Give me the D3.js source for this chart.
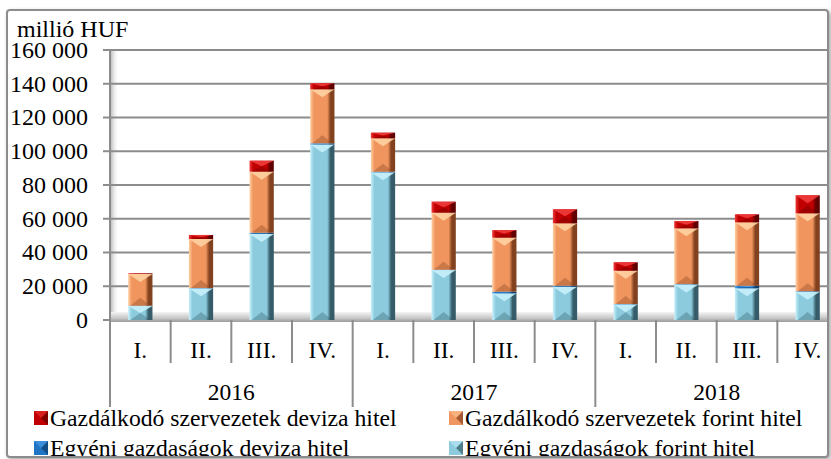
<!DOCTYPE html>
<html>
<head>
<meta charset="utf-8">
<script src="https://cdn.jsdelivr.net/npm/d3@7"></script>
<style>
  body { margin: 0; background: #fff; }
  svg { display: block; font-family: "Liberation Serif", "Times New Roman", serif; }
</style>
</head>
<body>
<svg width="831" height="459"></svg>
<script>
// quarters and years
const quarters = ["I.", "II.", "III.", "IV.", "I.", "II.", "III.", "IV.", "I.", "II.", "III.", "IV."];
const years = ["2016", "2017", "2018"];

// millió HUF
const egyeniForint = [8300, 18800, 51000, 104000, 87500, 29600, 15800, 19700, 9300, 21100, 18800, 16800];
const egyeniDeviza = [200, 200, 700, 700, 400, 200, 1000, 600, 200, 200, 1500, 300];
const gazdForint = [18800, 29000, 36200, 32000, 19800, 33800, 32000, 37000, 19700, 33000, 37600, 46100];
const gazdDeviza = [400, 2400, 6500, 3600, 3300, 6500, 4500, 8300, 5000, 4400, 4700, 10700];

const yTicks = [0, 20000, 40000, 60000, 80000, 100000, 120000, 140000, 160000];

const series = [
    { key: "ef", name: "Egyéni gazdaságok forint hitel", values: egyeniForint, light: "#c8f1fb", main: "#8ccbde", dark: "#355c68" },
    { key: "ed", name: "Egyéni gazdaságok deviza hitel", values: egyeniDeviza, light: "#5aa8ec", main: "#1f74c4", dark: "#0e3d6b" },
    { key: "gf", name: "Gazdálkodó szervezetek forint hitel", values: gazdForint, light: "#ffd0a2", main: "#f0955e", dark: "#83421f" },
    { key: "gd", name: "Gazdálkodó szervezetek deviza hitel", values: gazdDeviza, light: "#f03c3c", main: "#c00000", dark: "#600000" }
];

const svg = d3.select("svg");
const defs = svg.append("defs");

const plotLeft = 110, plotRight = 838, plotTop = 50, plotBottom = 320;

// outer frame
const shadow = defs.append("filter").attr("id", "shadow").attr("x", "-5%").attr("y", "-5%").attr("width", "110%").attr("height", "110%");
shadow.append("feDropShadow").attr("dx", 2).attr("dy", 2).attr("stdDeviation", 2).attr("flood-color", "#000").attr("flood-opacity", 0.35);
svg.append("rect")
    .attr("x", 7).attr("y", 10).attr("width", 821).attr("height", 447)
    .attr("rx", 3)
    .attr("fill", "#fff")
    .attr("stroke", "#8c8c8c")
    .attr("stroke-width", 2)
    .attr("filter", "url(#shadow)");

const clip = defs.append("clipPath").attr("id", "frameclip");
clip.append("rect").attr("x", 8).attr("y", 11).attr("width", 819).attr("height", 445);

const g = svg.append("g").attr("clip-path", "url(#frameclip)");

const keys = quarters.map((q, i) => i);
const xs = d3.scaleBand().domain(keys).range([plotLeft, plotRight]);
const barW = xs.bandwidth() * 0.4;
const y = d3.scaleLinear().domain([0, 160000]).range([plotBottom, plotTop]);

const fmt = d3.formatLocale({ decimal: ",", thousands: "\u00a0", grouping: [3], currency: ["", ""] }).format(",");

// wall shading on the left
const wallGrad = defs.append("linearGradient").attr("id", "wall").attr("x1", 0).attr("x2", 1);
wallGrad.append("stop").attr("offset", "0%").attr("stop-color", "#b0b0b0");
wallGrad.append("stop").attr("offset", "100%").attr("stop-color", "#fff").attr("stop-opacity", 0);
g.append("rect").attr("x", plotLeft).attr("y", plotTop).attr("width", 9).attr("height", plotBottom - plotTop).attr("fill", "url(#wall)");

// gridlines
g.selectAll(".grid")
    .data(yTicks.filter((d) => d > 0))
    .enter()
    .append("line")
    .attr("x1", plotLeft).attr("x2", plotRight)
    .attr("y1", (d) => y(d)).attr("y2", (d) => y(d))
    .attr("stroke", "#8c8c8c")
    .attr("stroke-width", 2);

// floor
const floorGrad = defs.append("linearGradient").attr("id", "floor").attr("x1", 0).attr("x2", 0).attr("y1", 0).attr("y2", 1);
floorGrad.append("stop").attr("offset", "0%").attr("stop-color", "#f4f4f4");
floorGrad.append("stop").attr("offset", "60%").attr("stop-color", "#c8c8c8");
floorGrad.append("stop").attr("offset", "100%").attr("stop-color", "#9a9a9a");
g.append("rect").attr("x", plotLeft).attr("y", plotBottom - 8).attr("width", plotRight - plotLeft).attr("height", 10).attr("fill", "url(#floor)");

// gradients for bars
series.forEach((s) => {
    const gr = defs.append("linearGradient").attr("id", "grad-" + s.key).attr("x1", 0).attr("x2", 1);
    gr.append("stop").attr("offset", "0%").attr("stop-color", s.light);
    gr.append("stop").attr("offset", "15%").attr("stop-color", s.main);
    gr.append("stop").attr("offset", "70%").attr("stop-color", s.main);
    gr.append("stop").attr("offset", "84%").attr("stop-color", s.dark);
    gr.append("stop").attr("offset", "100%").attr("stop-color", s.dark);
});

const table = keys.map((i) => {
    const row = { i: i };
    series.forEach((s) => { row[s.key] = s.values[i]; });
    return row;
});
const stacked = d3.stack().keys(series.map((s) => s.key))(table);

stacked.forEach((layer, li) => {
    const s = series[li];
    const grp = g.append("g");
    layer.forEach((d) => {
        const x0 = xs(d.data.i) + (xs.bandwidth() - barW) / 2;
        const top = y(d[1]);
        const bot = y(d[0]);
        const h = bot - top;
        if (h <= 0) return;
        const b = Math.min(8, h / 2);
        grp.append("rect")
            .attr("x", x0).attr("y", top).attr("width", barW).attr("height", h)
            .attr("fill", "url(#grad-" + s.key + ")");
        // top bevel (light)
        grp.append("path")
            .attr("d", `M${x0},${top}L${x0 + barW},${top}L${x0 + barW / 2},${top + b}Z`)
            .attr("fill", s.light).attr("opacity", 0.9);
        // bottom bevel (dark)
        grp.append("path")
            .attr("d", `M${x0 + 2},${bot}L${x0 + barW - 2},${bot}L${x0 + barW / 2},${bot - b}Z`)
            .attr("fill", s.dark).attr("opacity", 0.35);
    });
});

// y axis
svg.append("line")
    .attr("x1", plotLeft).attr("x2", plotLeft)
    .attr("y1", plotTop).attr("y2", 407)
    .attr("stroke", "#8c8c8c").attr("stroke-width", 2);

svg.selectAll(".ytick")
    .data(yTicks)
    .enter()
    .append("line")
    .attr("x1", plotLeft - 7).attr("x2", plotLeft)
    .attr("y1", (d) => y(d)).attr("y2", (d) => y(d))
    .attr("stroke", "#8c8c8c").attr("stroke-width", 2);

svg.selectAll(".ylab")
    .data(yTicks)
    .enter()
    .append("text")
    .attr("x", 88)
    .attr("y", (d) => y(d))
    .attr("dy", "0.33em")
    .attr("text-anchor", "end")
    .attr("font-size", 24)
    .text((d) => fmt(d));

svg.append("text")
    .attr("x", 17).attr("y", 37)
    .attr("font-size", 24)
    .text("millió HUF");

// x axis: quarter separators and labels
g.selectAll(".qtick")
    .data(keys.slice(1))
    .enter()
    .append("line")
    .attr("x1", (d) => xs(d)).attr("x2", (d) => xs(d))
    .attr("y1", plotBottom).attr("y2", (d) => (d % 4 === 0 ? 407 : 363))
    .attr("stroke", "#8c8c8c").attr("stroke-width", 2);
g.append("line")
    .attr("x1", plotRight).attr("x2", plotRight)
    .attr("y1", plotBottom).attr("y2", 407)
    .attr("stroke", "#8c8c8c").attr("stroke-width", 2);

g.selectAll(".qlab")
    .data(keys)
    .enter()
    .append("text")
    .attr("x", (d) => xs(d) + xs.bandwidth() / 2)
    .attr("y", 350)
    .attr("dy", "0.33em")
    .attr("text-anchor", "middle")
    .attr("font-size", 23.5)
    .text((d) => quarters[d]);

g.selectAll(".year")
    .data(years)
    .enter()
    .append("text")
    .attr("x", (d, i) => (xs(i * 4) + xs(i * 4 + 3) + xs.bandwidth()) / 2)
    .attr("y", 392)
    .attr("dy", "0.33em")
    .attr("text-anchor", "middle")
    .attr("font-size", 23.5)
    .text((d) => d);

// legend
const legendItems = [
    { s: series[3], x: 34, y: 418 },
    { s: series[2], x: 449, y: 418 },
    { s: series[1], x: 34, y: 448 },
    { s: series[0], x: 449, y: 448 }
];
const leg = g.selectAll(".leg")
    .data(legendItems)
    .enter()
    .append("g")
    .attr("transform", (d) => `translate(${d.x},${d.y})`);
leg.append("rect")
    .attr("x", 0).attr("y", -7).attr("width", 14).attr("height", 14)
    .attr("fill", (d) => d.s.main);
leg.append("path")
    .attr("d", "M14,-7L14,7L7,0Z")
    .attr("fill", (d) => d.s.dark).attr("opacity", 0.7);
leg.append("path")
    .attr("d", "M0,-7L14,-7L7,0Z")
    .attr("fill", (d) => d.s.light).attr("opacity", 0.5);
leg.append("text")
    .attr("x", 16).attr("y", 0)
    .attr("dy", "0.33em")
    .attr("font-size", 23.7)
    .text((d) => d.s.name);
</script>
</body>
</html>
